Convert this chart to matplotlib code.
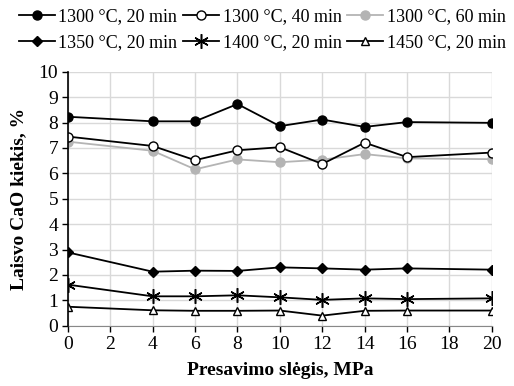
import matplotlib
matplotlib.use('Agg')
import matplotlib.pyplot as plt

plt.rcParams['font.family'] = ['Liberation Serif', 'DejaVu Serif']

pressure = [0, 4, 6, 8, 10, 12, 14, 16, 20]

cao_1300_20 = [8.23, 8.05, 8.05, 8.73, 7.86, 8.12, 7.83, 8.02, 7.99]
cao_1300_40 = [7.45, 7.08, 6.52, 6.91, 7.03, 6.37, 7.21, 6.64, 6.82]
cao_1300_60 = [7.25, 6.89, 6.16, 6.55, 6.44, 6.54, 6.76, 6.59, 6.56]
cao_1350_20 = [2.89, 2.13, 2.17, 2.16, 2.30, 2.26, 2.21, 2.26, 2.21]
cao_1400_20 = [1.62, 1.16, 1.16, 1.20, 1.12, 1.02, 1.08, 1.05, 1.08]
cao_1450_20 = [0.75, 0.61, 0.59, 0.59, 0.60, 0.40, 0.59, 0.60, 0.60]

labels = ['1300 °C, 20 min', '1300 °C, 40 min', '1300 °C, 60 min',
          '1350 °C, 20 min', '1400 °C, 20 min', '1450 °C, 20 min']

fig = plt.figure(figsize=(5.14, 3.86), dpi=100)
ax = fig.add_axes([0.132, 0.156, 0.825, 0.658])

lw = 1.3
h = []
h += ax.plot(pressure, cao_1300_20, color='black', lw=lw, marker='o', ms=6.5, mfc='black', mec='black', label=labels[0], zorder=5)
h += ax.plot(pressure, cao_1300_40, color='black', lw=lw, marker='o', ms=6.5, mfc='white', mec='black', mew=1.0, label=labels[1], zorder=5)
h += ax.plot(pressure, cao_1300_60, color='#b4b4b4', lw=lw, marker='o', ms=6.5, mfc='#b4b4b4', mec='#b4b4b4', label=labels[2], zorder=4)
h += ax.plot(pressure, cao_1350_20, color='black', lw=lw, marker='D', ms=4.8, mfc='black', mec='black', label=labels[3], zorder=5)
h += ax.plot(pressure, cao_1400_20, color='black', lw=lw, marker=(6, 2, 0), ms=10.5, mew=1.1, label=labels[4], zorder=5)
h += ax.plot(pressure, cao_1450_20, color='black', lw=lw, marker='^', ms=6, mfc='white', mec='black', mew=1.0, label=labels[5], zorder=5)

ax.set_xlim(0, 20)
ax.set_ylim(0, 10)
ax.set_xticks(range(0, 21, 2))
ax.set_yticks(range(0, 11))
ax.tick_params(labelsize=14, length=4, width=1, color='black', direction='out', pad=3)
ax.grid(True, color='#d9d9d9', lw=1)
ax.set_axisbelow(True)
for s in ['top', 'right']:
    ax.spines[s].set_visible(False)
ax.spines['left'].set_color('black')
ax.spines['bottom'].set_color('#888888')
ax.spines['left'].set_linewidth(1.2)
ax.spines['left'].set_zorder(6)

ax.set_xlabel('Presavimo slėgis, MPa', fontsize=14, fontweight='bold', labelpad=7)
ax.set_ylabel('Laisvo CaO kiekis, %', fontsize=14, fontweight='bold', labelpad=8)

# row-major legend order: 3 per row
order = [0, 3, 1, 4, 2, 5]
fig.legend([h[i] for i in order], [labels[i] for i in order],
           loc='upper center', bbox_to_anchor=(0.51, 1.02), ncol=3, frameon=False,
           fontsize=13, handlelength=2.0, handletextpad=0.2, columnspacing=0.3,
           labelspacing=0.5)

fig.savefig('out.png', dpi=100)
